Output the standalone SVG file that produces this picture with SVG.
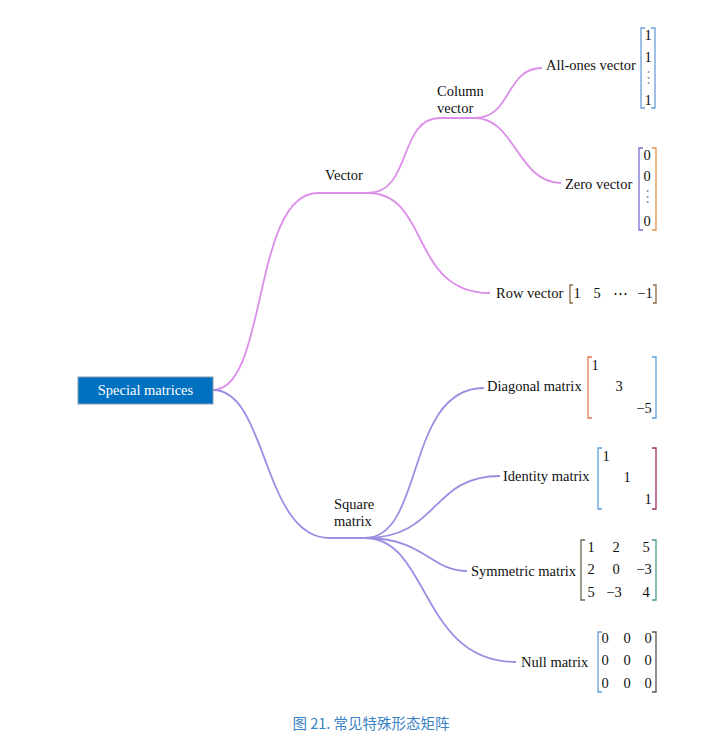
<svg xmlns="http://www.w3.org/2000/svg" width="712" height="744" viewBox="0 0 712 744">
<style>
text{font-family:'Liberation Serif','Times New Roman',Times,serif;font-size:14.5px;fill:#111}
.m{text-anchor:middle}
.d{fill:#999}
.v{fill:none;stroke:#DC8FE9;stroke-width:1.8}
.s{fill:none;stroke:#9C8EE3;stroke-width:1.8}
.b{fill:none;stroke-width:1.3}
</style>
<rect width="712" height="744" fill="#fff"/>
<g id="connectors">
<path class="v" d="M213,390 C268,390 252,193 318,193 L368,193"/>
<path class="v" d="M368,193 C412,193 398,118 440,118 L475,118"/>
<path class="v" d="M475,118 C512,118 505,68 542,68"/>
<path class="v" d="M475,118 C515,118 518,183 561,183"/>
<path class="v" d="M368,193 C430,193 410,293 490,293"/>
<path class="s" d="M213,390 C268,390 262,538 330,538 L365,538"/>
<path class="s" d="M365,538 C425,538 405,388 484,388"/>
<path class="s" d="M365,538 C440,538 430,476 500,476"/>
<path class="s" d="M365,538 C425,538 430,571 467,571"/>
<path class="s" d="M365,538 C430,538 420,662 516,662"/>
</g>
<g id="root">
<rect x="78" y="377" width="135" height="27" fill="#0070C0" stroke="#8a9bb0" stroke-width="1"/>
<text x="145.5" y="395" class="m" style="fill:#fff">Special matrices</text>
</g>
<g id="vector"><text x="344" y="180" class="m">Vector</text></g>
<g id="column-vector"><text x="437" y="96">Column</text><text x="437" y="113">vector</text></g>
<g id="square-matrix"><text x="334" y="509">Square</text><text x="334" y="526">matrix</text></g>
<g id="all-ones">
<text x="546" y="70">All-ones vector</text>
<path class="b" stroke="#6A9FD8" d="M645,28 L641,28 L641,108 L645,108"/>
<path class="b" stroke="#6A9FD8" d="M651,28 L655,28 L655,108 L651,108"/>
<text x="648" y="40" class="m">1</text><text x="648" y="62" class="m">1</text><text x="648" y="82" class="m d">⋮</text><text x="648" y="105" class="m">1</text>
</g>
<g id="zero-vector">
<text x="565" y="189">Zero vector</text>
<path class="b" stroke="#7A6FD0" d="M643,148 L639,148 L639,230 L643,230"/>
<path class="b" stroke="#E0904A" d="M652,148 L656,148 L656,230 L652,230"/>
<text x="647" y="160" class="m">0</text><text x="647" y="181" class="m">0</text><text x="647" y="201" class="m d">⋮</text><text x="647" y="226" class="m">0</text>
</g>
<g id="row-vector">
<text x="496" y="298">Row vector</text>
<path class="b" stroke="#8a6a40" d="M573,285 L570,285 L570,303 L573,303"/>
<path class="b" stroke="#8a6a40" d="M653,285 L656,285 L656,303 L653,303"/>
<text x="577" y="298" class="m">1</text><text x="597" y="298" class="m">5</text><text x="620" y="298" class="m">⋯</text><text x="645" y="298" class="m">−1</text>
</g>
<g id="diagonal">
<text x="487" y="391">Diagonal matrix</text>
<path class="b" stroke="#E07A50" d="M592,357 L588,357 L588,418 L592,418"/>
<path class="b" stroke="#5BA0DA" d="M652,357 L656,357 L656,418 L652,418"/>
<text x="595" y="370" class="m">1</text><text x="619" y="391" class="m">3</text><text x="644" y="413" class="m">−5</text>
</g>
<g id="identity">
<text x="503" y="481">Identity matrix</text>
<path class="b" stroke="#5BA0DA" d="M602,448 L598,448 L598,509 L602,509"/>
<path class="b" stroke="#9A3060" d="M652,448 L656,448 L656,509 L652,509"/>
<text x="606" y="461" class="m">1</text><text x="627" y="482" class="m">1</text><text x="648" y="504" class="m">1</text>
</g>
<g id="symmetric">
<text x="471" y="576">Symmetric matrix</text>
<path class="b" stroke="#6a6a50" d="M585,540 L581,540 L581,600 L585,600"/>
<path class="b" stroke="#4a9a8a" d="M652,540 L656,540 L656,600 L652,600"/>
<text x="591" y="552" class="m">1</text><text x="616" y="552" class="m">2</text><text x="646" y="552" class="m">5</text>
<text x="591" y="574" class="m">2</text><text x="616" y="574" class="m">0</text><text x="644" y="574" class="m">−3</text>
<text x="591" y="597" class="m">5</text><text x="614" y="597" class="m">−3</text><text x="646" y="597" class="m">4</text>
</g>
<g id="null">
<text x="521" y="667">Null matrix</text>
<path class="b" stroke="#6A9FD8" d="M602,632 L598,632 L598,692 L602,692"/>
<path class="b" stroke="#555" d="M652,632 L656,632 L656,692 L652,692"/>
<text x="605" y="643" class="m">0</text><text x="627" y="643" class="m">0</text><text x="648" y="643" class="m">0</text>
<text x="605" y="665" class="m">0</text><text x="627" y="665" class="m">0</text><text x="648" y="665" class="m">0</text>
<text x="605" y="688" class="m">0</text><text x="627" y="688" class="m">0</text><text x="648" y="688" class="m">0</text>
</g>
<text x="371" y="729" text-anchor="middle" style="font-family:'Noto Sans CJK SC','Noto Sans',sans-serif;font-size:14.5px;fill:#3A82C4">图 21. 常见特殊形态矩阵</text>
</svg>
